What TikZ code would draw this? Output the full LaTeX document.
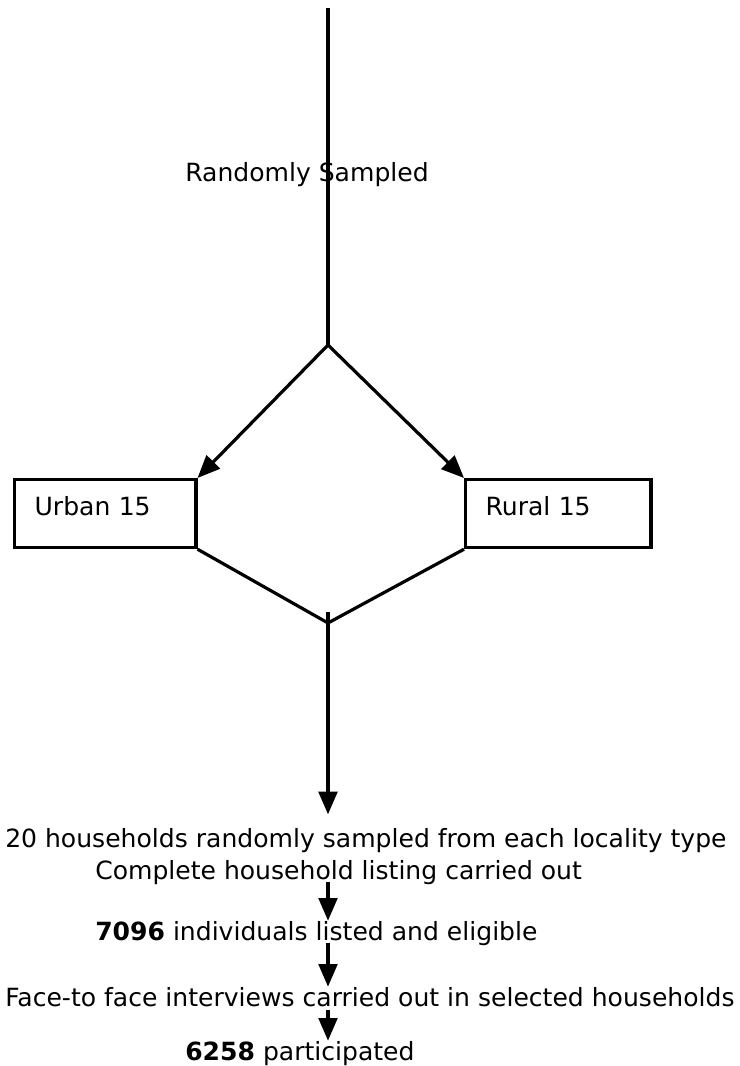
\documentclass[tikz,border=0pt]{standalone}
\usepackage{fontspec}
\setmainfont{DejaVu Sans}
\usetikzlibrary{arrows.meta,positioning,calc}
\tikzset{
  box/.style={draw,line width=2.4pt,rectangle,anchor=north west,align=left,
    inner xsep=15pt,inner ysep=0pt,text height=27pt,text depth=24pt},
  arr/.style={-{Triangle[length=17pt,width=14pt]},line width=2.4pt},
  link/.style={line width=2.4pt},
  lbl/.style={anchor=base west,inner sep=0pt}
}

\begin{document}
\begin{tikzpicture}[x=0.75pt,y=-0.75pt,font=\fontsize{18.8}{22}\selectfont]
 \useasboundingbox (0,0) rectangle (739,1066);
 \coordinate (top) at (328,8);
 \coordinate (split) at (328,345);
 \coordinate (merge) at (328,623);
 \coordinate (stem) at (328,612);
 \node[box,text width=106pt] (urban) at (13,478) {Urban 15};
 \node[box,text width=109pt] (rural) at (464,478) {Rural 15};
 \draw[link] (top) -- (split);
 \node[lbl] (rs) at (185,182) {Randomly Sampled};
 \draw[arr] (split) -- (urban.north east); \draw[arr] (split) -- (rural.north west);
 \draw[link] (urban.south east) -- (merge) -- (rural.south west);
 \node[lbl] (hh) at (5,847) {20 households randomly sampled from each locality type};
 \node[lbl] (list) at (95,879) {Complete household listing carried out};
 \node[lbl] (elig) at (95,940) {\textbf{7096} individuals listed and eligible};
 \node[lbl] (face) at (5,1006) {Face-to face interviews carried out in selected households};
 \node[lbl] (part) at (185,1060) {\textbf{6258} participated};
 \draw[arr] (stem) -- ([yshift=10pt]hh.north -| stem);
 \draw[arr] ([yshift=-2pt]list.base -| stem) -- (elig.north -| stem);
 \draw[arr] ([yshift=-2pt]elig.base -| stem) -- (face.north -| stem);
 \draw[arr] ([yshift=-3pt]face.base -| stem) -- (part.north -| stem);
\end{tikzpicture}
\end{document}
